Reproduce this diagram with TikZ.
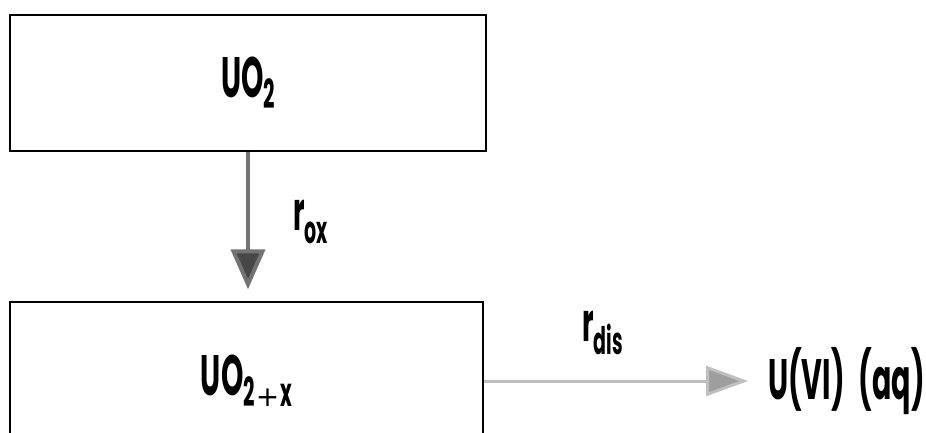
\documentclass[tikz,border=0pt]{standalone}
\usepackage{fontspec}
\setmainfont{Poppins}[FakeStretch=0.5]
\newfontfamily\plusfont{DejaVu Sans}
\usetikzlibrary{arrows.meta}

\newcommand{\chemsub}[1]{\raisebox{-11pt}{\fontsize{40}{40}\selectfont #1}}
\newcommand{\chemplus}{\hspace{1pt}{\plusfont\mdseries\fontsize{28}{28}\selectfont +}\hspace{1pt}}
\newcommand{\rate}[1]{{\fontsize{54}{54}\selectfont r}\raisebox{-13pt}{\fontsize{38}{38}\selectfont #1}}

\tikzset{
  phase/.style={draw, line width=1.3pt, inner sep=0pt, font=\fontsize{57}{60}\selectfont\bfseries},
  species/.style={inner sep=0pt, font=\fontsize{57}{60}\selectfont\bfseries},
  ratelabel/.style={inner sep=0pt, font=\bfseries},
  oxstep/.style={line width=4pt, draw=black!55, -{Triangle[width=34pt, length=40pt, fill=black!72]}, shorten >=12pt},
  disstep/.style={line width=3pt, draw=black!25, -{Triangle[width=30pt, length=42pt, fill=black!38]}, shorten >=20pt}
}

\begin{document}
\begin{tikzpicture}[x=1pt, y=-1pt]
   \useasboundingbox (0,0) rectangle (926,433);

   \node[phase, minimum width=476pt, minimum height=136pt] (uo2) at (248,83) {UO\chemsub{2}};
   \node[phase, minimum width=473pt, minimum height=158pt] (uo2x) at (246.5,381) {UO\chemsub{2\chemplus x}};
   \node[species, anchor=west] (uvi) at (768,381) {U(VI)\hspace{8pt} (aq)};

   \node[ratelabel, anchor=west] (rox) at (293,222) {\rate{ox}};
   \node[ratelabel, anchor=west] (rdis) at (582,333) {\rate{dis}};

   \draw[oxstep] (uo2.south) -- (uo2.south |- uo2x.north);
   \draw[disstep] (uo2x.east) -- (uvi.west);
\end{tikzpicture}
\end{document}
